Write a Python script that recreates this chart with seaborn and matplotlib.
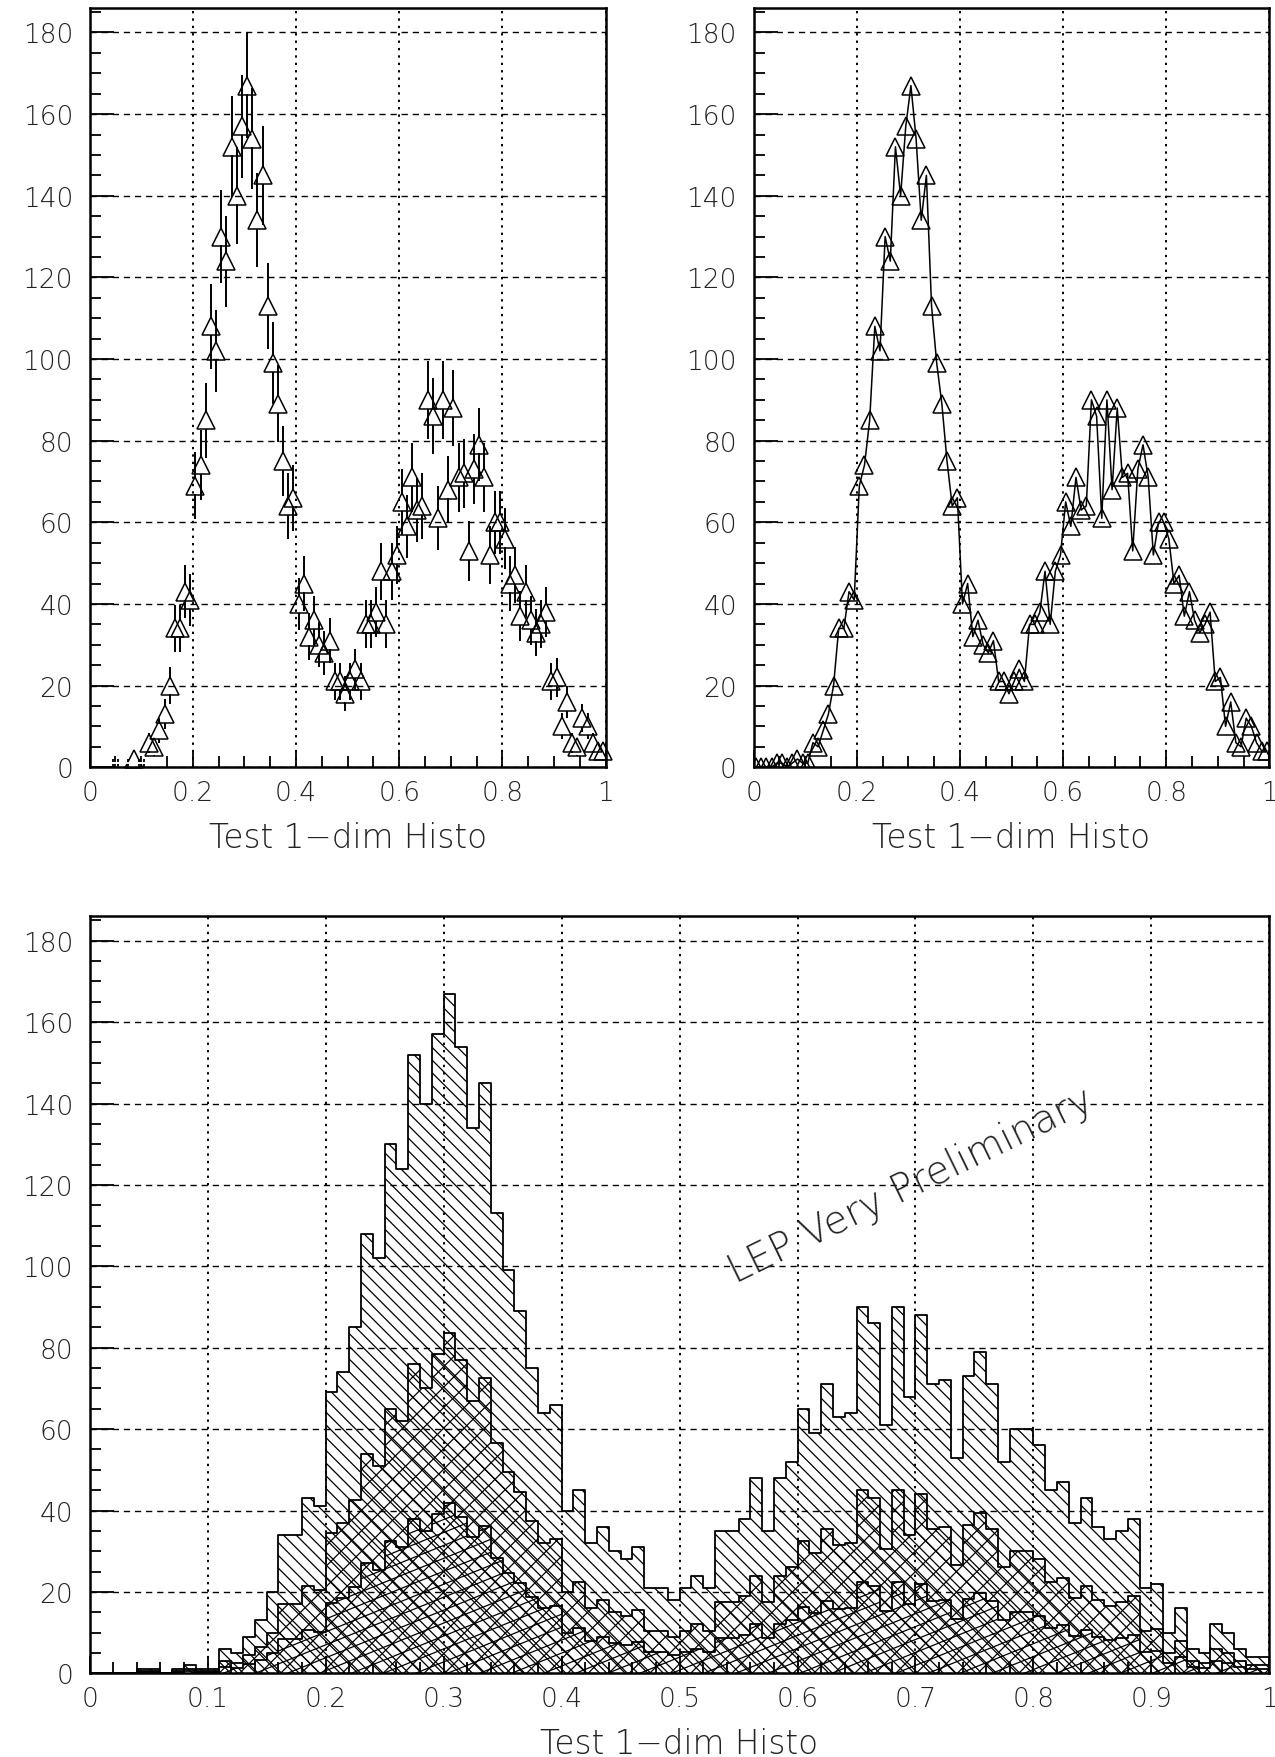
import numpy as np
import pandas as pd
import matplotlib
matplotlib.use("Agg")
import matplotlib.pyplot as plt
import seaborn as sns
from matplotlib.ticker import MultipleLocator, FixedLocator
from matplotlib.patches import PathPatch
from matplotlib.path import Path
from matplotlib.collections import LineCollection

# ---- data: 100 bins on [0, 1] ----
counts = [0, 0, 0, 0, 1, 1, 0, 1, 2, 1,
          1, 6, 5, 9, 13, 20, 34, 34, 43, 41,
          69, 74, 85, 108, 102, 130, 124, 152, 140, 157,
          167, 154, 134, 145, 113, 99, 89, 75, 64, 66,
          40, 45, 32, 36, 30, 28, 31, 21, 21, 18,
          21, 24, 21, 35, 35, 38, 48, 35, 48, 52,
          65, 59, 71, 63, 64, 90, 86, 61, 90, 68,
          88, 71, 72, 53, 73, 79, 71, 52, 60, 60,
          56, 45, 47, 37, 43, 36, 33, 35, 38, 21,
          22, 10, 16, 6, 5, 12, 10, 6, 4, 4]

half_counts = [0, 0, 0, 0, 0.5, 0.5, 0, 0.5, 1, 0.5,
               0.5, 3, 2.5, 4.5, 6.5, 10, 17, 17, 21.5, 20.5,
               34.5, 37, 42.5, 54, 51, 65, 62, 76, 70, 78.5,
               83.5, 77, 67, 72.5, 56.5, 49.5, 44.5, 37.5, 32, 33,
               20, 22.5, 16, 18, 15, 14, 15.5, 10.5, 10.5, 9,
               10.5, 12, 10.5, 17.5, 17.5, 19, 24, 17.5, 24, 26,
               32.5, 29.5, 35.5, 31.5, 32, 45, 43, 30.5, 45, 34,
               44, 35.5, 36, 26.5, 36.5, 39.5, 35.5, 26, 30, 30,
               28, 22.5, 23.5, 18.5, 21.5, 18, 16.5, 17.5, 19, 10.5,
               11, 5, 8, 3, 2.5, 6, 5, 3, 2, 2]

quarter_counts = [0, 0, 0, 0, 0.25, 0.25, 0, 0.25, 0.5, 0.25,
                  0.25, 1.5, 1.25, 2.25, 3.25, 5, 8.5, 8.5, 10.75, 10.25,
                  17.25, 18.5, 21.25, 27, 25.5, 32.5, 31, 38, 35, 39.25,
                  41.75, 38.5, 33.5, 36.25, 28.25, 24.75, 22.25, 18.75, 16, 16.5,
                  10, 11.25, 8, 9, 7.5, 7, 7.75, 5.25, 5.25, 4.5,
                  5.25, 6, 5.25, 8.75, 8.75, 9.5, 12, 8.75, 12, 13,
                  16.25, 14.75, 17.75, 15.75, 16, 22.5, 21.5, 15.25, 22.5, 17,
                  22, 17.75, 18, 13.25, 18.25, 19.75, 17.75, 13, 15, 15,
                  14, 11.25, 11.75, 9.25, 10.75, 9, 8.25, 8.75, 9.5, 5.25,
                  5.5, 2.5, 4, 1.5, 1.25, 3, 2.5, 1.5, 1, 1]

x_title = "Test 1\u2212dim Histo"
stamp = "LEP Very Preliminary"

n_bins = len(counts)
edges = np.linspace(0.0, 1.0, n_bins + 1)
centers = 0.5 * (edges[:-1] + edges[1:])
df = pd.DataFrame({"x": centers, "n": counts,
                   "half": half_counts, "quarter": quarter_counts})

# ---- style ----
sns.set_theme(style="white")
FONT = ["DejaVu Sans"]
plt.rcParams["font.family"] = FONT
plt.rcParams["font.weight"] = "light"
plt.rcParams["axes.linewidth"] = 1.8
plt.rcParams["axes.edgecolor"] = "black"

DPI = 100
W, H = 1275, 1758
fig = plt.figure(figsize=(W / DPI, H / DPI), dpi=DPI)
fig.patch.set_facecolor("white")

YMAX = 186.0
TICK_FS = 19
TITLE_FS = 23.5


def frac(x0, y0, x1, y1):
    return [x0 / W, 1 - y1 / H, (x1 - x0) / W, (y1 - y0) / H]


def style_axes(ax, xmajor, xminor, xlabels):
    ax.set_xlim(0, 1)
    ax.set_ylim(0, YMAX)
    ax.xaxis.set_major_locator(FixedLocator(xmajor))
    ax.xaxis.set_minor_locator(MultipleLocator(xminor))
    ax.set_xticklabels(xlabels)
    ax.yaxis.set_major_locator(FixedLocator(np.arange(0, 181, 20)))
    ax.yaxis.set_minor_locator(MultipleLocator(5))
    ax.tick_params(axis="both", which="both", direction="in",
                   top=False, right=False, left=True, bottom=True,
                   color="black")
    ax.tick_params(axis="y", which="major", length=17, width=1.3,
                   pad=12, labelsize=TICK_FS)
    ax.tick_params(axis="y", which="minor", length=8, width=1.3)
    ax.tick_params(axis="x", which="major", length=12, width=1.3,
                   pad=9, labelsize=TICK_FS)
    ax.tick_params(axis="x", which="minor", length=8, width=1.3)
    for lab in ax.get_xticklabels() + ax.get_yticklabels():
        lab.set_fontweight("light")
        lab.set_color("#222222")
    ax.yaxis.grid(True, which="major", color="black",
                  linestyle=(0, (4.5, 3.5)), linewidth=1.0)
    ax.xaxis.grid(True, which="major", color="black",
                  linestyle=(0, (1.2, 2.6)), linewidth=1.4)
    ax.set_axisbelow(True)
    for s in ax.spines.values():
        s.set_visible(True)
        s.set_linewidth(1.8)
        s.set_color("black")


def finish_axes(ax):
    ax.set_xlim(0, 1)
    ax.set_ylim(0, YMAX)
    ax.set_ylabel("")
    ax.set_xlabel(x_title, fontsize=TITLE_FS, fontweight="light",
                  labelpad=12, color="#222222")


top_labels = ["0", "0.2", "0.4", "0.6", "0.8", "1"]
top_major = [0, 0.2, 0.4, 0.6, 0.8, 1.0]
bot_major = [round(0.1 * i, 1) for i in range(11)]
bot_labels = ["0"] + [f"{v:.1f}" for v in bot_major[1:-1]] + ["1"]

MS = 12.5           # triangle marker size (points)
MEW = 1.1

# ---- top left: points with statistical errors ----
ax1 = fig.add_axes(frac(89.7, 9, 605.6, 768.2))
style_axes(ax1, top_major, 0.05, top_labels)
px_per_unit = (768.2 - 9) / YMAX
gap = (MS * DPI / 72.0) / 2.0 / px_per_unit   # half marker height in data units
tri = df[df["n"] >= 2]
small = df[(df["n"] > 0) & (df["n"] < 2)]
tri_err = np.sqrt(tri["n"])
up = tri_err > gap
ax1.vlines(tri["x"][up], tri["n"][up] + gap, tri["n"][up] + tri_err[up],
           color="black", linewidth=1.4)
ax1.vlines(tri["x"][up], tri["n"][up] - tri_err[up], tri["n"][up] - gap,
           color="black", linewidth=1.4)
ax1.vlines(small["x"], small["n"] - np.sqrt(small["n"]),
           small["n"] + np.sqrt(small["n"]), color="black", linewidth=1.3)
sns.lineplot(data=tri, x="x", y="n", ax=ax1, linestyle="", marker="^",
             markersize=MS, markerfacecolor="none", markeredgecolor="black",
             markeredgewidth=MEW, color="black", clip_on=False)
sns.lineplot(data=small, x="x", y="n", ax=ax1, linestyle="", marker="_",
             markersize=8, markeredgewidth=1.3, color="black", clip_on=False)
finish_axes(ax1)

# ---- top right: markers joined by a polyline ----
ax2 = fig.add_axes(frac(753.6, 9, 1269.4, 768.2))
style_axes(ax2, top_major, 0.05, top_labels)
sns.lineplot(data=df, x="x", y="n", ax=ax2, marker="^", markersize=MS,
             markerfacecolor="none", markeredgecolor="black",
             markeredgewidth=MEW, color="black", linewidth=1.1)
finish_axes(ax2)

# ---- bottom: three overlaid hatched histograms ----
ax3 = fig.add_axes(frac(89.7, 917.3, 1269.4, 1674.3))
style_axes(ax3, bot_major, 0.02, bot_labels)
ax3.set_xlim(0, 1)
ax3.set_ylim(0, YMAX)


def hatch_histogram(ax, heights, angle_deg, spacing_px, lw=1.0):
    """Fill a step histogram with parallel lines at a screen angle."""
    heights = np.asarray(heights, dtype=float)
    xs = np.repeat(edges, 2)
    ys = np.concatenate([[0.0], np.repeat(heights, 2), [0.0]])
    verts = np.column_stack([xs, ys])
    verts = np.vstack([verts, verts[:1]])
    codes = [Path.MOVETO] + [Path.LINETO] * (len(verts) - 2) + [Path.CLOSEPOLY]
    clip = PathPatch(Path(verts, codes), transform=ax.transData,
                     facecolor="none", edgecolor="none")
    ax.add_patch(clip)
    bb = ax.bbox
    cx, cy = (bb.x0 + bb.x1) / 2, (bb.y0 + bb.y1) / 2
    R = np.hypot(bb.width, bb.height)
    t = np.radians(angle_deg)
    d = np.array([np.cos(t), np.sin(t)])
    nrm = np.array([-np.sin(t), np.cos(t)])
    k = np.arange(-int(R / spacing_px) - 1, int(R / spacing_px) + 2)
    inv = ax.transData.inverted()
    segs = []
    for kk in k:
        c = np.array([cx, cy]) + nrm * kk * spacing_px
        p = np.vstack([c - d * R, c + d * R])
        segs.append(inv.transform(p))
    lc = LineCollection(segs, colors="black", linewidths=lw,
                        transform=ax.transData)
    lc.set_clip_path(clip)
    ax.add_collection(lc)


hatch_histogram(ax3, df["n"], -45, 9.0, lw=0.9)
hatch_histogram(ax3, df["half"], -45, 14.5, lw=0.9)
hatch_histogram(ax3, df["half"], 45, 14.5, lw=0.9)
hatch_histogram(ax3, df["quarter"], 22, 12.0, lw=0.9)

for col in ["n", "half", "quarter"]:
    sns.histplot(data=df, x="x", weights=col, bins=n_bins, binrange=(0, 1),
                 element="step", fill=False, color="black", linewidth=1.3,
                 ax=ax3)
finish_axes(ax3)

ax3.text(0.547, 96, stamp, rotation=26.0, rotation_mode="anchor",
         ha="left", va="baseline", fontsize=28, fontweight="light",
         color="#222222", transform=ax3.transData)

fig.savefig("out.png", dpi=DPI, facecolor="white")
